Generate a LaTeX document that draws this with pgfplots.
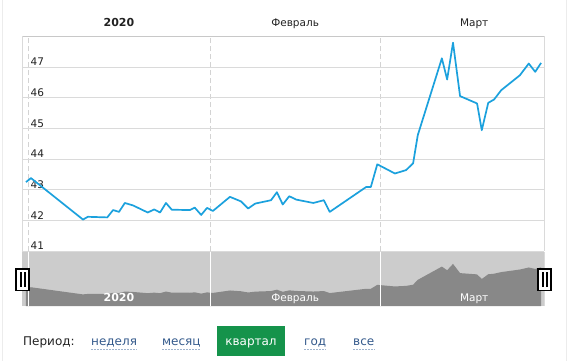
\documentclass[border=0pt]{standalone}
\usepackage{fontspec}
\setmainfont{DejaVu Sans}
\usepackage{pgfplots}
\pgfplotsset{compat=1.18}
\usepackage{pgfplotstable}
\definecolor{lineblue}{RGB}{27,161,221}
\definecolor{gridgray}{RGB}{218,218,218}
\definecolor{bordergray}{RGB}{200,200,200}
\definecolor{navlight}{RGB}{204,204,204}
\definecolor{navdark}{RGB}{136,136,136}
\definecolor{linkblue}{RGB}{52,90,140}
\definecolor{linkunder}{RGB}{160,180,205}
\definecolor{btngreen}{RGB}{21,147,75}
\definecolor{textgray}{RGB}{34,34,34}

\pgfplotstableread{
day val
-0.34 43.25
0.51 43.38
9.37 42.03
10.2 42.12
13.5 42.10
14.5 42.34
15.5 42.28
16.5 42.57
17.9 42.49
20.4 42.26
21.5 42.36
22.5 42.26
23.5 42.57
24.5 42.35
27.6 42.34
28.4 42.42
29.5 42.18
30.5 42.41
31.5 42.31
34.4 42.77
36.3 42.62
37.5 42.39
38.7 42.55
41.4 42.66
42.4 42.92
43.4 42.52
44.5 42.79
45.7 42.68
48.6 42.57
50.4 42.66
51.4 42.28
57.6 43.09
58.4 43.09
59.5 43.83
62.5 43.53
64.4 43.64
65.6 43.86
66.4 44.78
70.5 47.28
71.4 46.59
72.4 47.79
73.6 46.05
76.5 45.81
77.3 44.94
78.4 45.83
79.4 45.94
80.6 46.24
83.8 46.73
85.3 47.11
86.4 46.84
87.4 47.13
}\pricedata

\begin{document}
\begin{tikzpicture}
\fill[white] (0pt,0pt) rectangle (568pt,361pt);
% outer faint borders
\draw[gray!15] (2pt,0pt) -- (2pt,361pt);
\draw[gray!15] (566pt,0pt) -- (566pt,361pt);
% main chart
\begin{axis}[
  at={(22pt,110pt)}, anchor=south west,
  scale only axis, width=522pt, height=215pt,
  xmin=-1.02, xmax=87.9, ymin=41, ymax=48,
  axis line style={draw=none},
  xtick={0,31,60}, xticklabels={},
  xmajorgrids, x grid style={bordergray!80, dash pattern=on 5pt off 3pt, line width=0.8pt},
  ytick={41,42,43,44,45,46,47},
  ymajorgrids, y grid style={gridgray, line width=0.8pt},
  major tick length=0pt,
  /pgf/number format/assume math mode=true,
  yticklabel style={anchor=base west, xshift=8.5pt, yshift=1.2pt, inner sep=0pt, font=\fontsize{10.5}{12}\selectfont, text=textgray},
  clip=false,
]
\addplot[lineblue, line width=1.7pt, line join=round] table[x=day, y=val] {\pricedata};
\draw[bordergray, line width=0.9pt] (rel axis cs:0,1) -- (rel axis cs:1,1);
\draw[gridgray, line width=0.8pt] (rel axis cs:0,1) -- (rel axis cs:0,0);
\draw[gridgray, line width=0.8pt] (rel axis cs:1,1) -- (rel axis cs:1,0);
\node[anchor=base, font=\fontsize{11}{13}\selectfont\bfseries, text=textgray] at (axis cs:15.5,48) [yshift=10pt] {2020};
\node[anchor=base, font=\fontsize{10.5}{13}\selectfont, text=textgray] at (axis cs:45.5,48) [yshift=10pt] {Февраль};
\node[anchor=base, font=\fontsize{10.5}{13}\selectfont, text=textgray] at (axis cs:76,48) [yshift=10pt] {Март};
\end{axis}
% navigator
\begin{axis}[
  at={(22pt,55pt)}, anchor=south west,
  scale only axis, width=522pt, height=54pt,
  xmin=-1.02, xmax=87.9, ymin=39.8, ymax=50,
  axis line style={draw=none},
  axis background/.style={fill=navlight},
  xtick={0,31,60}, xticklabels={}, ytick=\empty,
  xmajorgrids, x grid style={white, line width=0.8pt},
  major tick length=0pt,
  axis on top,
]
\addplot[draw=none, fill=navdark] table[x=day, y=val] {\pricedata} \closedcycle;
\node[anchor=base, font=\fontsize{11}{13}\selectfont\bfseries, text=white] at (axis cs:15.5,39.8) [yshift=5pt] {2020};
\node[anchor=base, font=\fontsize{10.5}{13}\selectfont, text=white] at (axis cs:45.5,39.8) [yshift=5pt] {Февраль};
\node[anchor=base, font=\fontsize{10.5}{13}\selectfont, text=white] at (axis cs:76,39.8) [yshift=5pt] {Март};
\end{axis}
\draw[gridgray, line width=0.8pt] (544pt,55pt) -- (544pt,109pt);
% handles
\foreach \hx in {15pt,537pt}{
  \draw[black, line width=1.6pt, fill=white] ([xshift=0.8pt]\hx,70.8pt) rectangle ([xshift=14.2pt]\hx,92.2pt);
  \fill[black] ([xshift=4.5pt]\hx,74pt) rectangle ([xshift=6.5pt]\hx,89pt);
  \fill[black] ([xshift=8.5pt]\hx,74pt) rectangle ([xshift=10.5pt]\hx,89pt);
}
% period row
\node[anchor=base west, inner sep=0pt, font=\fontsize{12}{14}\selectfont, text=textgray] at (23pt,16pt) {Период:};
\node[anchor=base west, inner sep=0pt, font=\fontsize{12}{14}\selectfont, text=linkblue] (w1) at (91pt,16pt) {неделя};
\node[anchor=base west, inner sep=0pt, font=\fontsize{12}{14}\selectfont, text=linkblue] (w2) at (162pt,16pt) {месяц};
\fill[btngreen] (217pt,5pt) rectangle (285pt,35pt);
\node[anchor=base, inner sep=0pt, font=\fontsize{12}{14}\selectfont, text=white] at (251pt,16pt) {квартал};
\node[anchor=base west, inner sep=0pt, font=\fontsize{12}{14}\selectfont, text=linkblue] (w3) at (304pt,16pt) {год};
\node[anchor=base west, inner sep=0pt, font=\fontsize{12}{14}\selectfont, text=linkblue] (w4) at (353pt,16pt) {все};
\foreach \w in {w1,w2,w3,w4}{
  \draw[linkunder, dash pattern=on 2pt off 1pt, line width=0.7pt] (\w.west |- 0,12pt) -- (\w.east |- 0,12pt);
}
\end{tikzpicture}
\end{document}
